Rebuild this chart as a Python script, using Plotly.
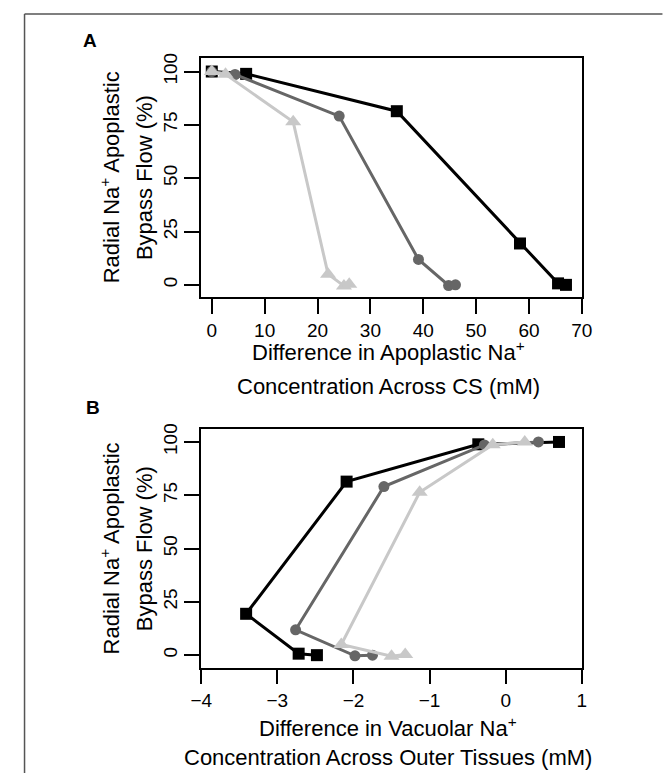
import plotly.graph_objects as go

# ---- data ----
flow_sq = [100, 98.9, 81.4, 19.4, 0.7, 0]
flow_ci = [100, 98.6, 79.1, 11.9, -0.3, 0]
flow_tr = [100, 98.7, 76.4, 5.0, -0.5, 0.3]

apo_sq = [0, 6.5, 35.0, 58.3, 65.5, 67.0]
apo_ci = [0, 4.4, 24.1, 39.1, 44.8, 46.1]
apo_tr = [0, 2.6, 15.4, 22.0, 25.0, 26.0]

vac_sq = [0.70, -0.36, -2.09, -3.41, -2.72, -2.48]
vac_ci = [0.43, -0.28, -1.60, -2.76, -1.98, -1.75]
vac_tr = [0.25, -0.17, -1.13, -2.16, -1.50, -1.32]

x_ticks_a = [0, 10, 20, 30, 40, 50, 60, 70]
x_ticks_b = [-4, -3, -2, -1, 0, 1]
y_ticks = [0, 25, 50, 75, 100]

W, H = 667, 773
FONT = "Liberation Sans, Arial, sans-serif"

def px(x):
    return x / W

def py(y):
    return 1 - y / H

fig = go.Figure()

styles = [
    ("#000000", "square", 12),
    ("#666666", "circle", 11),
    ("#c8c8c8", "triangle-up", 14),
]

for (xa, ya, xref) in [((apo_sq, apo_ci, apo_tr), (flow_sq, flow_ci, flow_tr), ("x", "y")),
                       ((vac_sq, vac_ci, vac_tr), (flow_sq, flow_ci, flow_tr), ("x2", "y2"))]:
    for xs, ys, (col, sym, sz) in zip(xa, ya, styles):
        fig.add_trace(go.Scatter(
            x=xs, y=ys, mode="lines+markers",
            line=dict(color=col, width=3),
            marker=dict(color=col, symbol=sym, size=sz, line=dict(width=0)),
            xaxis=xref[0], yaxis=xref[1], showlegend=False, cliponaxis=False))

axis_common = dict(showline=True, linecolor="black", linewidth=1.5, mirror=True,
                   ticks="outside", ticklen=15, tickwidth=1.5, tickcolor="black",
                   showgrid=False, zeroline=False,
                   tickfont=dict(family=FONT, size=19, color="black"))

xdom = [px(196.7), px(590.3)]
fig.update_layout(
    width=W, height=H,
    margin=dict(l=0, r=0, t=0, b=0),
    paper_bgcolor="white", plot_bgcolor="white",
    xaxis=dict(domain=xdom, range=[-2, 70], tickvals=x_ticks_a, anchor="y", **axis_common),
    yaxis=dict(domain=[py(293.3), py(52.7)], range=[-5.7, 106.2], tickvals=y_ticks,
               tickangle=-90, anchor="x", **axis_common),
    xaxis2=dict(domain=xdom, range=[-4, 1], tickvals=x_ticks_b, anchor="y2",
                tickformat="d", **axis_common),
    yaxis2=dict(domain=[py(666.7), py(426.7)], range=[-5.8, 105.9], tickvals=y_ticks,
                tickangle=-90, anchor="x2", **axis_common),
)

def ann(text, x, y, size=22, angle=0, bold=False):
    if bold:
        text = "<b>" + text + "</b>"
    fig.add_annotation(text=text, x=px(x), y=py(y), xref="paper", yref="paper",
                       showarrow=False, textangle=angle,
                       font=dict(family=FONT, size=size, color="black"),
                       xanchor="center", yanchor="middle")

# panel labels
ann("A", 82, 35, size=19, bold=True)
ann("B", 85, 405, size=19, bold=True)

# panel A titles
ann("Difference in Apoplastic Na<sup>+</sup>", 390, 348)
ann("Concentration Across CS (mM)", 390, 383)
ann("Radial Na<sup>+</sup> Apoplastic", 102, 173, angle=-90)
ann("Bypass Flow (%)", 138, 173, angle=-90)

# panel B titles
ann("Difference in Vacuolar Na<sup>+</sup>", 390, 727)
ann("Concentration Across Outer Tissues (mM)", 390, 757)
ann("Radial Na<sup>+</sup> Apoplastic", 102, 547, angle=-90)
ann("Bypass Flow (%)", 138, 547, angle=-90)

# outer frame (top and left edges visible)
fig.add_shape(type="line", xref="paper", yref="paper", x0=px(14), x1=1.01, y0=py(8), y1=py(8),
              line=dict(color="#555555", width=1.5))
fig.add_shape(type="line", xref="paper", yref="paper", x0=px(14), x1=px(14), y0=py(8), y1=-0.01,
              line=dict(color="#555555", width=1.5))

fig.write_html("out.html", config={"displayModeBar": False},
               post_script="document.body.style.margin='0px';")
